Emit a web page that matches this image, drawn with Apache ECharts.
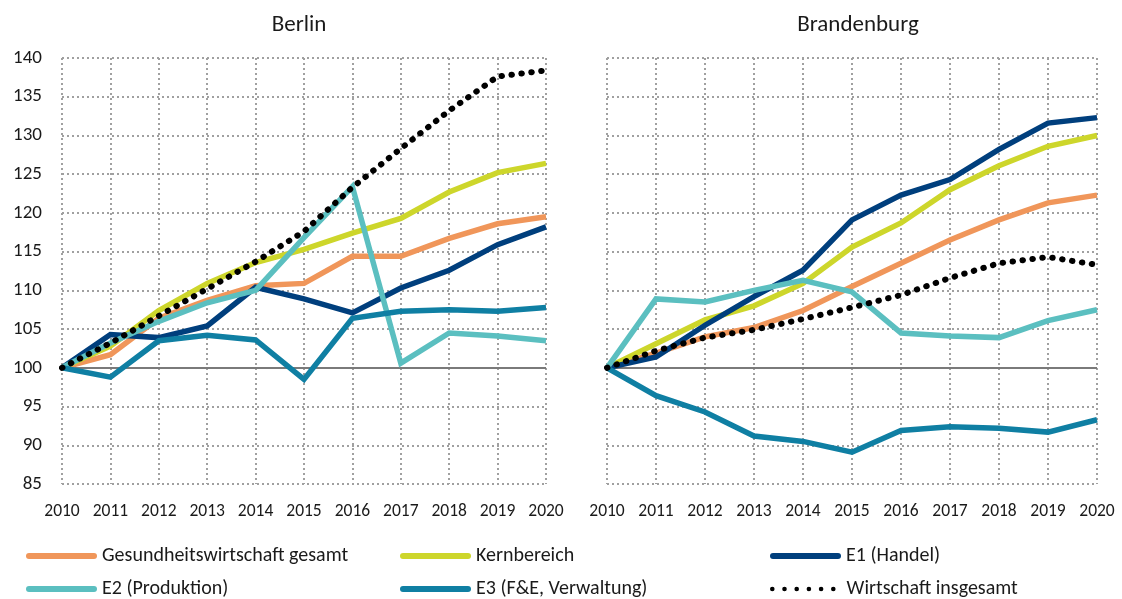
<!doctype html>
<html><head><meta charset="utf-8" />
<style>html,body,#app{margin:0;padding:0;width:1122px;height:599px;background:#ffffff}</style>
</head><body><div id="app"></div>
<script src="https://cdn.jsdelivr.net/npm/echarts@6.0.0/dist/echarts.min.js"></script>
<script>
const years = ['2010','2011','2012','2013','2014','2015','2016','2017','2018','2019','2020'];
const panels = ['Berlin', 'Brandenburg'];
const seriesNames = ['Gesundheitswirtschaft gesamt', 'Kernbereich', 'E1 (Handel)', 'E2 (Produktion)', 'E3 (F&E, Verwaltung)', 'Wirtschaft insgesamt'];

// Berlin
const berlinGesamt   = [100, 101.7, 106.4, 108.7, 110.6, 110.9, 114.4, 114.4, 116.7, 118.6, 119.5];
const berlinKern     = [100, 102.8, 107.4, 110.9, 113.6, 115.3, 117.4, 119.3, 122.7, 125.2, 126.4];
const berlinE1       = [100, 104.3, 103.9, 105.4, 110.4, 108.9, 107.1, 110.3, 112.6, 115.9, 118.2];
const berlinE2       = [100, 103.2, 106.0, 108.4, 110.0, 116.8, 123.4, 100.6, 104.5, 104.1, 103.5];
const berlinE3       = [100, 98.8, 103.5, 104.2, 103.6, 98.5, 106.4, 107.3, 107.5, 107.3, 107.8];
const berlinGesamtWi = [100, 103.2, 106.7, 110.2, 113.7, 117.6, 123.3, 128.3, 133.2, 137.6, 138.4];

// Brandenburg
const brbGesamt   = [100, 101.9, 104.0, 105.2, 107.4, 110.5, 113.5, 116.5, 119.1, 121.3, 122.3];
const brbKern     = [100, 103.1, 106.2, 108.0, 110.9, 115.6, 118.7, 123.0, 126.1, 128.6, 130.0];
const brbE1       = [100, 101.4, 105.5, 109.2, 112.6, 119.1, 122.3, 124.3, 128.2, 131.6, 132.3];
const brbE2       = [100, 108.9, 108.5, 110.0, 111.3, 109.8, 104.5, 104.1, 103.9, 106.1, 107.5];
const brbE3       = [100, 96.4, 94.3, 91.2, 90.5, 89.1, 91.9, 92.4, 92.2, 91.7, 93.3];
const brbGesamtWi = [100, 102.2, 103.9, 104.9, 106.3, 107.8, 109.4, 111.6, 113.5, 114.3, 113.3];

const yMin = 85, yMax = 140, yStep = 5;
const colors = ['#f0965a', '#cdd62b', '#003f7d', '#5bbfc0', '#0f7fa3', '#000000'];

const panelData = [
  [berlinGesamt, berlinKern, berlinE1, berlinE2, berlinE3, berlinGesamtWi],
  [brbGesamt, brbKern, brbE1, brbE2, brbE3, brbGesamtWi]
];

const font = 'Carlito, Lato, sans-serif';
const chart = echarts.init(document.getElementById('app'));

const grids = [
  { left: 62, right: 576, top: 58, bottom: 115 },
  { left: 607, right: 25, top: 58, bottom: 115 }
];

const dotted = { color: '#a0a0a0', type: [2, 3], width: 2 };

const xAxes = grids.map((g, i) => ({
  type: 'category', gridIndex: i, data: years, boundaryGap: false,
  axisLine: { show: false }, axisTick: { show: false },
  axisLabel: { color: '#1a1a1a', fontSize: 17.5, fontFamily: font, margin: 19 },
  splitLine: { show: true, lineStyle: dotted }
}));

const yAxes = grids.map((g, i) => ({
  type: 'value', gridIndex: i, min: yMin, max: yMax, interval: yStep,
  axisLine: { show: false }, axisTick: { show: false },
  axisLabel: { show: i === 0, color: '#1a1a1a', fontSize: 19, fontFamily: font, margin: 20 },
  splitLine: { show: true, lineStyle: dotted }
}));

const series = [];
panelData.forEach((list, p) => {
  list.forEach((data, k) => {
    const isDots = k === 5;
    const s = {
      name: seriesNames[k], type: 'line', xAxisIndex: p, yAxisIndex: p,
      data: data, symbol: 'none', showSymbol: false, z: isDots ? 5 : 3,
      itemStyle: { color: colors[k] },
      lineStyle: isDots
        ? { color: colors[k], width: 6, type: [0.5, 9.5], cap: 'round' }
        : { color: colors[k], width: 5.5, cap: 'butt', join: 'miter' }
    };
    if (k === 0) {
      s.markLine = {
        silent: true, symbol: 'none', label: { show: false }, z: 1,
        lineStyle: { color: '#7a7a7a', type: 'solid', width: 2 },
        data: [{ yAxis: 100 }]
      };
    }
    series.push(s);
  });
});

// icon shapes for the legend
function dotsPath(n) {
  let d = '';
  for (let i = 0; i < n; i++) {
    const cx = 2.3 + i * 12.2;
    d += 'M' + (cx - 2.3) + ' 2.3a2.3 2.3 0 1 0 4.6 0a2.3 2.3 0 1 0 -4.6 0z';
  }
  return 'path://' + d;
}
const barIcon = 'path://M3 0H68A3 3 0 0 1 68 6H3A3 3 0 0 1 3 0z';

const legendPos = [
  [26, 546], [400, 546], [770, 546],
  [26, 579], [400, 579], [770, 579]
];
const legends = seriesNames.map((name, k) => ({
  left: legendPos[k][0], top: legendPos[k][1], padding: 0,
  itemWidth: k === 5 ? 65.6 : 71, itemHeight: k === 5 ? 4.6 : 6, itemGap: 0,
  selectedMode: false,
  textStyle: { color: '#1a1a1a', fontSize: 20, fontFamily: font, padding: [0, 0, 0, k === 5 ? 6 : 0] },
  data: [{
    name: name, icon: k === 5 ? dotsPath(6) : barIcon,
    itemStyle: { color: colors[k] },
    lineStyle: k === 5 ? { opacity: 0 } : undefined
  }]
}));

const option = {
  backgroundColor: '#ffffff',
  animation: false,
  title: panels.map((t, i) => ({
    text: t, left: i === 0 ? 294 : 853, top: 9, textAlign: 'center',
    textStyle: { color: '#1a1a1a', fontSize: 23, fontWeight: 'normal', fontFamily: font }
  })),
  grid: grids,
  xAxis: xAxes,
  yAxis: yAxes,
  legend: legends,
  series: series
};
chart.setOption(option);
</script></body></html>
